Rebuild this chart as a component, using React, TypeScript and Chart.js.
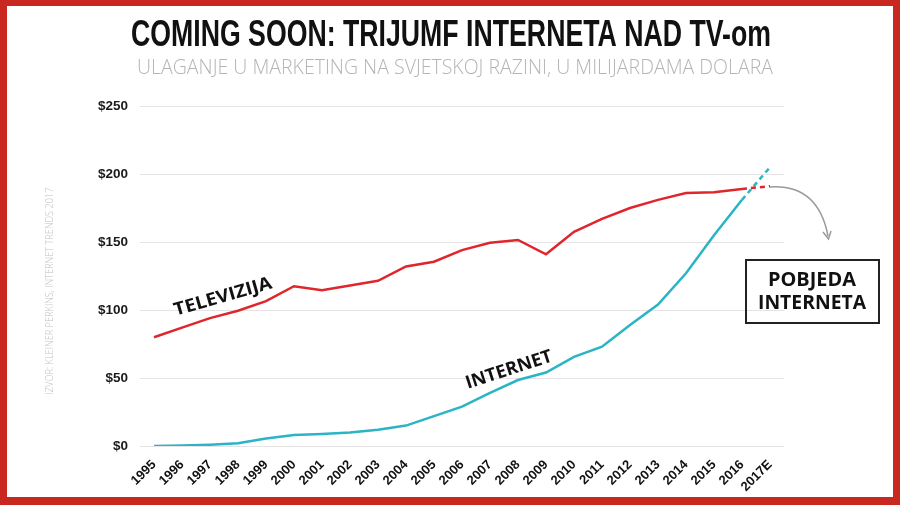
import React, { useEffect, useRef } from "react";
import { Chart, registerables } from "chart.js";

Chart.register(...registerables);

const years = ["1995","1996","1997","1998","1999","2000","2001","2002","2003","2004","2005","2006","2007","2008","2009","2010","2011","2012","2013","2014","2015","2016","2017E"];
const televizija = [80, 87, 94, 99.5, 106.5, 117.5, 114.5, 118, 121.5, 132, 135.5, 144, 149.5, 151.5, 141, 157.5, 167, 175, 181, 186, 186.5, 189, 191];
const internet = [0, 0.3, 1, 2, 5.5, 8, 8.8, 10, 12, 15, 22, 29, 39, 48.5, 54, 65.5, 73, 89, 104, 127, 155, 181, 205];
const yTicks = [0, 50, 100, 150, 200, 250];

const TITLE = "COMING SOON: TRIJUMF INTERNETA NAD TV-om";
const SUBTITLE = "ULAGANJE U MARKETING NA SVJETSKOJ RAZINI, U MILIJARDAMA DOLARA";
const SOURCE = "IZVOR: KLEINER PERKINS, INTERNET TRENDS 2017";

function fitText(ctx: CanvasRenderingContext2D, text: string, cx: number, cy: number, width: number, font: string, color: string, angle = 0) {
  ctx.save();
  ctx.font = font;
  ctx.fillStyle = color;
  ctx.textAlign = "center";
  ctx.textBaseline = "middle";
  const w = ctx.measureText(text).width;
  ctx.translate(cx, cy);
  ctx.rotate(angle);
  ctx.scale(width / w, 1);
  ctx.fillText(text, 0, 0);
  ctx.restore();
}

const decor = {
  id: "decor",
  beforeDraw(chart: any) {
    const ctx = chart.ctx as CanvasRenderingContext2D;
    ctx.save();
    ctx.fillStyle = "#ffffff";
    ctx.fillRect(0, 0, chart.width, chart.height);
    ctx.restore();
  },
  afterDraw(chart: any) {
    const ctx = chart.ctx as CanvasRenderingContext2D;
    const W = chart.width, H = chart.height;
    // frame
    ctx.save();
    ctx.fillStyle = "#c8281f";
    ctx.fillRect(0, 0, W, 6);
    ctx.fillRect(0, 0, 7, H);
    ctx.fillRect(W - 7, 0, 7, H);
    ctx.fillRect(0, H - 8, W, 8);
    ctx.restore();

    fitText(ctx, TITLE, 451, 36, 640, "bold 36px 'Liberation Sans', Arial, sans-serif", "#111111");
    fitText(ctx, SUBTITLE, 455, 68, 636, "300 20px 'Open Sans', 'Liberation Sans', sans-serif", "#b5b5b5");
    fitText(ctx, SOURCE, 50, 291, 207, "300 11px 'Open Sans', 'Liberation Sans', sans-serif", "#c2c2c2", -Math.PI / 2);

    fitText(ctx, "TELEVIZIJA", 223, 297, 101, "bold 18px 'Open Sans', sans-serif", "#111111", -16 * Math.PI / 180);
    fitText(ctx, "INTERNET", 509, 370, 90, "bold 18px 'Open Sans', sans-serif", "#111111", -18 * Math.PI / 180);

    // box
    ctx.save();
    ctx.strokeStyle = "#222222";
    ctx.lineWidth = 2;
    ctx.strokeRect(746, 260, 133, 63);
    ctx.restore();
    fitText(ctx, "POBJEDA", 812, 281, 88, "bold 19px 'Open Sans', sans-serif", "#111111");
    fitText(ctx, "INTERNETA", 812, 304, 108, "bold 19px 'Open Sans', sans-serif", "#111111");

    // arrow
    ctx.save();
    ctx.strokeStyle = "#9a9a9a";
    ctx.lineWidth = 1.5;
    ctx.beginPath();
    ctx.moveTo(770, 187);
    ctx.quadraticCurveTo(818, 184, 828, 236);
    ctx.stroke();
    ctx.beginPath();
    ctx.moveTo(823, 232);
    ctx.lineTo(828.5, 239);
    ctx.lineTo(831, 231);
    ctx.stroke();
    ctx.restore();
  },
};

export default function App() {
  const ref = useRef<HTMLCanvasElement | null>(null);
  useEffect(() => {
    document.body.style.margin = "0";
    const last = years.length - 1;
    const dash = (c: any) => (c.p1DataIndex === last ? [5, 4] : undefined);
    const chart = new Chart(ref.current as HTMLCanvasElement, {
      type: "line",
      data: {
        labels: years,
        datasets: [
          { label: "Televizija", data: televizija, borderColor: "#e0262d", borderWidth: 2.5, pointRadius: 0, tension: 0, segment: { borderDash: dash } },
          { label: "Internet", data: internet, borderColor: "#2ab4c5", borderWidth: 2.5, pointRadius: 0, tension: 0, segment: { borderDash: dash } },
        ],
      },
      options: {
        animation: false,
        responsive: false,
        devicePixelRatio: 1,
        layout: { padding: { left: 0, top: 106, right: 116, bottom: 0 } },
        plugins: { legend: { display: false }, tooltip: { enabled: false }, title: { display: false } },
        scales: {
          x: {
            type: "category",
            offset: true,
            grid: { display: false },
            border: { display: false },
            afterFit: (s: any) => { s.height = 59; },
            ticks: {
              autoSkip: false,
              maxRotation: 45,
              minRotation: 45,
              padding: 3,
              color: "#111111",
              font: { family: "'Liberation Sans', Arial, sans-serif", weight: "bold", size: 13 },
            },
          },
          y: {
            min: 0,
            max: 250,
            afterFit: (s: any) => { s.width = 140; },
            afterBuildTicks: (s: any) => { s.ticks = yTicks.map((v) => ({ value: v })); },
            grid: { color: "#e4e4e4", lineWidth: 1, drawTicks: false },
            border: { display: false },
            ticks: {
              padding: 12,
              color: "#1a1a1a",
              font: { family: "'Liberation Sans', Arial, sans-serif", weight: "bold", size: 13.5 },
              callback: (v: any) => "$" + v,
            },
          },
        },
      },
      plugins: [decor],
    });
    return () => chart.destroy();
  }, []);
  return (
    <div style={{ width: 900, height: 505, position: "relative" }}>
      <canvas ref={ref} width={900} height={505} style={{ display: "block" }} />
    </div>
  );
}
